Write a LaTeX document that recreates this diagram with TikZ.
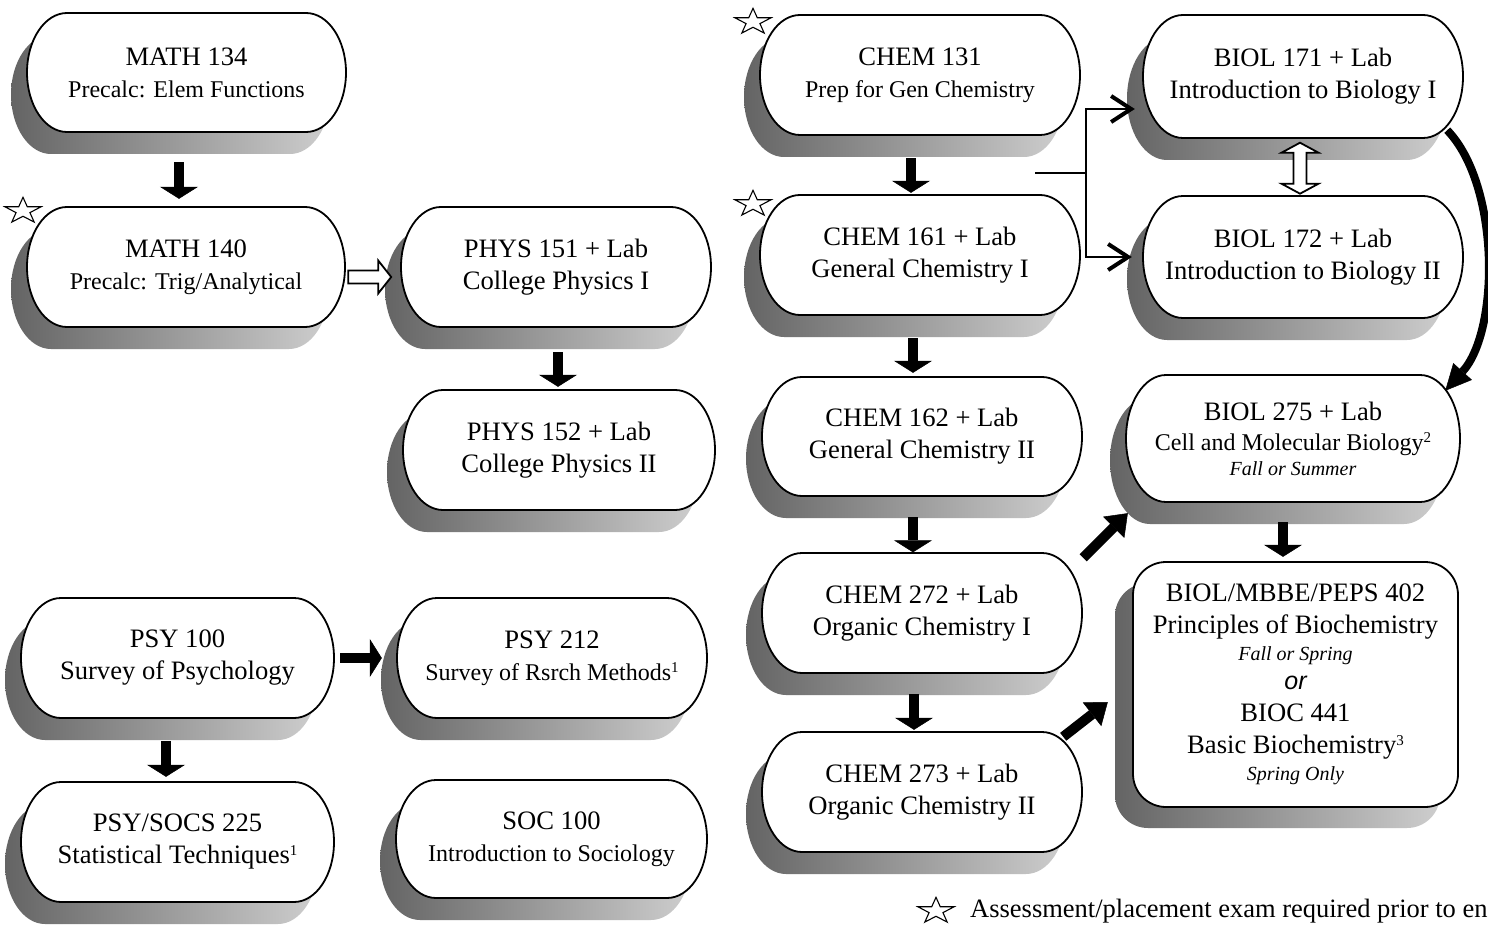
\documentclass[tikz,border=0pt]{standalone}
\usepackage{fontspec}
\setmainfont{Liberation Serif}
\newfontfamily\sansfam{Liberation Sans}
\usetikzlibrary{arrows.meta,calc}
\definecolor{shdark}{RGB}{100,100,100}
\definecolor{shlight}{RGB}{206,206,206}
\newcommand\subline[1]{{\fontsize{24}{29}\selectfont #1}}
\newcommand\itline[1]{{\fontsize{20}{24}\selectfont\itshape #1}}
\newcommand\supnum[1]{\raisebox{8pt}{\fontsize{15}{15}\selectfont #1}}
\tikzset{
  coursetext/.style={inner sep=0pt,align=center,font=\fontsize{26.6}{32}\selectfont},
  pillline/.style={draw=black,line width=1.8pt,fill=white},
  shadowfill/.style={left color=shdark,right color=shlight,draw=none},
  fatarrow/.style={line width=10pt,-{Triangle[length=12pt,width=38pt,line width=0.5pt]}},
  diagarrow/.style={line width=10pt,-{Triangle[length=20pt,width=30pt,line width=0.5pt]}},
  curvearrow/.style={line width=8pt,-{Triangle[length=26pt,width=25pt,line width=0.5pt]}},
  thinconn/.style={line width=2pt},
  barbarrow/.style={line width=2pt,-{Straight Barb[length=20pt,width=26pt,line width=4pt]}},
  hollowarrow/.style={line width=1.8pt,fill=white,line join=miter},
  starline/.style={line width=1.1pt,line join=miter},
  notetext/.style={inner sep=0pt,anchor=west,font=\fontsize{26.5}{31}\selectfont}
}
% name, cx, cy, w, h, text
\newcommand\coursepill[6]{%
  \pgfmathsetmacro\cphw{#4/2}%
  \pgfmathsetmacro\cphh{#5/2}%
  \pgfmathsetmacro\cpsx{#2-16}%
  \pgfmathsetmacro\cpsy{#3+22}%
  \shade[shadowfill] (\cpsx-\cphw+40,\cpsy-\cphh) -- (\cpsx+\cphw-40,\cpsy-\cphh)
     arc[start angle=90,end angle=-90,x radius=40pt,y radius=\cphh pt]
     -- (\cpsx-\cphw+40,\cpsy+\cphh)
     arc[start angle=270,end angle=90,x radius=40pt,y radius=\cphh pt] -- cycle;
  \draw[pillline] (#2-\cphw+40,#3-\cphh) -- (#2+\cphw-40,#3-\cphh)
     arc[start angle=90,end angle=-90,x radius=40pt,y radius=\cphh pt]
     -- (#2-\cphw+40,#3+\cphh)
     arc[start angle=270,end angle=90,x radius=40pt,y radius=\cphh pt] -- cycle;
  \node[coursetext,minimum width=#4pt,minimum height=#5pt] (#1) at (#2,#3) {#6};
}
\newcommand\starmark[2]{%
  \draw[starline,shift={(#1,#2)},yscale=0.72] (90:19pt) -- (126:7.3pt) -- (162:19pt) -- (198:7.3pt)
    -- (234:19pt) -- (270:7.3pt) -- (306:19pt) -- (342:7.3pt) -- (18:19pt) -- (54:7.3pt) -- cycle;
}
\begin{document}
\begin{tikzpicture}[x=1pt,y=-1pt]
\useasboundingbox (0,0) rectangle (1488,925);
\fill[white] (0,0) rectangle (1488,925);

% ---- Math / Physics
\coursepill{m134}{186.5}{72.5}{319}{119}{MATH 134\\\subline{Precalc: Elem Functions}}
\coursepill{m140}{186}{267}{318}{120}{MATH 140\\\subline{Precalc: Trig/Analytical}}
\coursepill{p151}{556}{267}{310}{120}{PHYS 151 + Lab\\College Physics I}
\coursepill{p152}{559}{450}{312}{120}{PHYS 152 + Lab\\College Physics II}

% ---- Psychology / Sociology
\coursepill{psy100}{177.5}{658}{313}{120}{PSY 100\\Survey of Psychology}
\coursepill{psy212}{552}{658}{310}{120}{PSY 212\\\subline{Survey of Rsrch Methods\supnum{1}}}
\coursepill{psy225}{177.5}{842}{313}{120}{PSY/SOCS 225\\Statistical Techniques\supnum{1}}
\coursepill{soc100}{551.5}{839}{311}{118}{SOC 100\\\subline{Introduction to Sociology}}

% ---- Chemistry
\coursepill{c131}{920}{75}{320}{120}{CHEM 131\\\subline{Prep for Gen Chemistry}}
\coursepill{c161}{920}{255}{320}{120}{CHEM 161 + Lab\\General Chemistry I}
\coursepill{c162}{922}{436.5}{320}{119}{CHEM 162 + Lab\\General Chemistry II}
\coursepill{c272}{922}{613}{320}{120}{CHEM 272 + Lab\\Organic Chemistry I}
\coursepill{c273}{922}{792}{320}{120}{CHEM 273 + Lab\\Organic Chemistry II}

% ---- Biology
\coursepill{b171}{1303}{76.5}{320}{123}{BIOL 171 + Lab\\Introduction to Biology I}
\coursepill{b172}{1303}{257}{320}{122}{BIOL 172 + Lab\\Introduction to Biology II}
\coursepill{b275}{1293}{438.5}{334}{127}{BIOL 275 + Lab\\[-2pt]\subline{Cell and Molecular Biology\supnum{2}}\\[-7pt]\itline{Fall or Summer}}

% ---- Biochemistry (rounded rectangle)
\shade[shadowfill,rounded corners=33pt] (1115,583) rectangle (1440,828);
\draw[pillline,rounded corners=33pt] (1133,562) rectangle (1458,807);
\node[coursetext,minimum width=325pt,minimum height=245pt] (b402) at (1295.5,684.5)
  {BIOL/MBBE/PEPS 402\\Principles of Biochemistry\\[-5pt]\itline{Fall or Spring}\\[-3pt]{\fontsize{25}{30}\selectfont\sansfam\itshape or}\\BIOC 441\\Basic Biochemistry\supnum{3}\\[-5pt]\itline{Spring Only}};

% ---- stars and note
\starmark{23}{211}
\starmark{753}{22}
\starmark{753}{204}
\starmark{936}{911}
\node[notetext] (note) at (970,911) {Assessment/placement exam required prior to en};

% ---- connectors
\draw[fatarrow] ([xshift=-7.5pt,yshift=-30pt]m134.south) -- ([xshift=-7pt,yshift=8pt]m140.north);
\draw[hollowarrow] ([xshift=3pt,yshift=-10pt]m140.east) ++(0,-6.5) -- ++(30,0) -- ++(0,-10)
   -- ++(13,16.5) -- ++(-13,16.5) -- ++(0,-10) -- ++(-30,0) -- cycle;
\draw[fatarrow] ([xshift=2pt,yshift=-25pt]p151.south) -- ([xshift=-1pt,yshift=3pt]p152.north);

\draw[fatarrow] ([xshift=6pt]psy100.east) -- ([xshift=-15pt]psy212.west);
\draw[fatarrow] ([xshift=-11.5pt,yshift=-23pt]psy100.south) -- ([xshift=-11.5pt,yshift=5pt]psy225.north);

\draw[fatarrow] ([xshift=-9pt,yshift=-23pt]c131.south) -- ([xshift=-9pt,yshift=2pt]c161.north);
\draw[fatarrow] ([xshift=-7pt,yshift=-23pt]c161.south) -- ([xshift=-9pt,yshift=4pt]c162.north);
\draw[fatarrow] ([xshift=-9pt,yshift=-21pt]c162.south) -- ([xshift=-9pt,yshift=0.5pt]c272.north);
\draw[fatarrow] ([xshift=-8pt,yshift=-21pt]c272.south) -- ([xshift=-8pt,yshift=2pt]c273.north);

\coordinate (split) at (1035,173);
\coordinate (fork) at (1086,173);
\draw[thinconn] (split) -- (fork);
\draw[barbarrow] (fork) |- ([xshift=-8pt,yshift=-32.5pt]b171.west);
\draw[barbarrow] (fork) |- ([xshift=-11pt]b172.west);

\draw[hollowarrow] ([xshift=-3pt,yshift=-4.5pt]b171.south) -- ++(18.5,10) -- ++(-12,0) -- ++(0,31)
   -- ++(12,0) -- ++(-18.5,10) -- ++(-18.5,-10) -- ++(12,0) -- ++(0,-31) -- ++(-12,0) -- cycle;

\draw[curvearrow] ([xshift=-16pt,yshift=8pt]b171.south east) .. controls (1500,185) and (1500,330)
   .. ([xshift=-15pt,yshift=-16pt]b275.north east);

\draw[diagarrow] ([xshift=1pt,yshift=-5pt]c272.north east) -- ([xshift=2pt,yshift=-11pt]b275.south west);
\draw[diagarrow] ([xshift=-19pt,yshift=-5pt]c273.north east) -- ([xshift=-25pt,yshift=-17.5pt]b402.west);
\draw[fatarrow] ([xshift=-10pt,yshift=-20pt]b275.south) -- ([xshift=-12.5pt,yshift=5pt]b402.north);
\end{tikzpicture}
\end{document}
